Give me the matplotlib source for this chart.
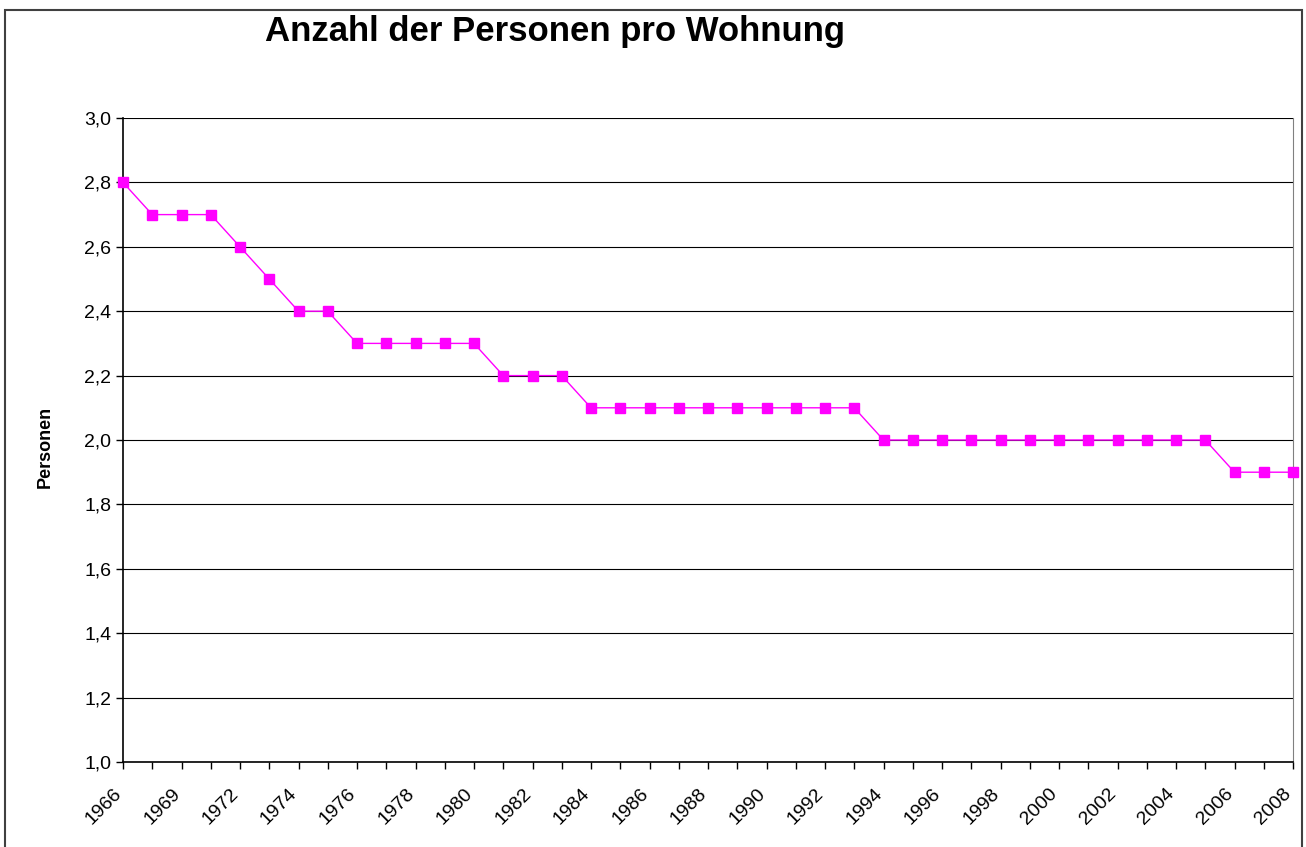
import matplotlib.pyplot as plt
from matplotlib.patches import Rectangle
from matplotlib.transforms import ScaledTranslation

# years shown on the category axis (every second one gets a label)
years = ["1966", "1968", "1969", "1971", "1972", "1973", "1974", "1975",
         "1976", "1977", "1978", "1979", "1980", "1981", "1982", "1983",
         "1984", "1985", "1986", "1987", "1988", "1989", "1990", "1991",
         "1992", "1993", "1994", "1995", "1996", "1997", "1998", "1999",
         "2000", "2001", "2002", "2003", "2004", "2005", "2006", "2007",
         "2008"]
personen = [2.8, 2.7, 2.7, 2.7, 2.6, 2.5, 2.4, 2.4,
            2.3, 2.3, 2.3, 2.3, 2.3, 2.2, 2.2, 2.2,
            2.1, 2.1, 2.1, 2.1, 2.1, 2.1, 2.1, 2.1,
            2.1, 2.1, 2.0, 2.0, 2.0, 2.0, 2.0, 2.0,
            2.0, 2.0, 2.0, 2.0, 2.0, 2.0, 1.9, 1.9,
            1.9]
y_ticks = [1.0, 1.2, 1.4, 1.6, 1.8, 2.0, 2.2, 2.4, 2.6, 2.8, 3.0]

plt.rcParams['font.family'] = ['Liberation Sans', 'DejaVu Sans']

fig = plt.figure(figsize=(13.06, 8.47), dpi=100)
ax = fig.add_axes([123 / 1306, 1 - 762 / 847, (1293 - 123) / 1306, (762 - 118) / 847])

x = list(range(len(years)))
ax.plot(x, personen, color="#FF00FF", linewidth=1, marker="s", markersize=7,
        markerfacecolor="#FF00FF", markeredgecolor="#FF00FF", clip_on=False, zorder=3)

ax.set_xlim(0, len(years) - 1)
ax.set_ylim(1.0, 3.0)
ax.set_yticks(y_ticks)
ax.set_yticklabels([f"{v:.1f}".replace(".", ",") for v in y_ticks], fontsize=14)
ax.set_xticks(x)
ax.set_xticklabels([y if i % 2 == 0 else "" for i, y in enumerate(years)],
                   rotation=45, ha="right", rotation_mode="anchor", fontsize=14)
ax.tick_params(axis="both", direction="out", length=5, width=1, color="black")
ax.tick_params(axis="x", pad=6)

# nudge the slanted year labels so their top end sits left of the tick
shift = ScaledTranslation(-0.10, -0.08, fig.dpi_scale_trans)
for lbl in ax.get_xticklabels():
    lbl.set_transform(lbl.get_transform() + shift)

ax.grid(axis="y", color="black", linewidth=0.8)
ax.set_axisbelow(True)
for side in ["left", "bottom"]:
    ax.spines[side].set_color("black")
    ax.spines[side].set_linewidth(1.2)
ax.spines["top"].set_visible(False)
ax.spines["right"].set_color("#808080")

# y axis title
fig.text(45 / 1306, 1 - 447 / 847, "Personen", rotation=90,
         fontsize=13, fontweight="bold", ha="center", va="center")

fig.text(555 / 1306, 1 - 32 / 847, "Anzahl der Personen pro Wohnung",
         fontsize=25, fontweight="bold", ha="center", va="center")

# outer chart border
fig.patches.append(Rectangle((5 / 1306, -0.05), (1302 - 5) / 1306, 1.05 - 10 / 847,
                             transform=fig.transFigure, fill=False,
                             edgecolor="#404040", linewidth=1.5))

fig.savefig("out.png", dpi=100)
